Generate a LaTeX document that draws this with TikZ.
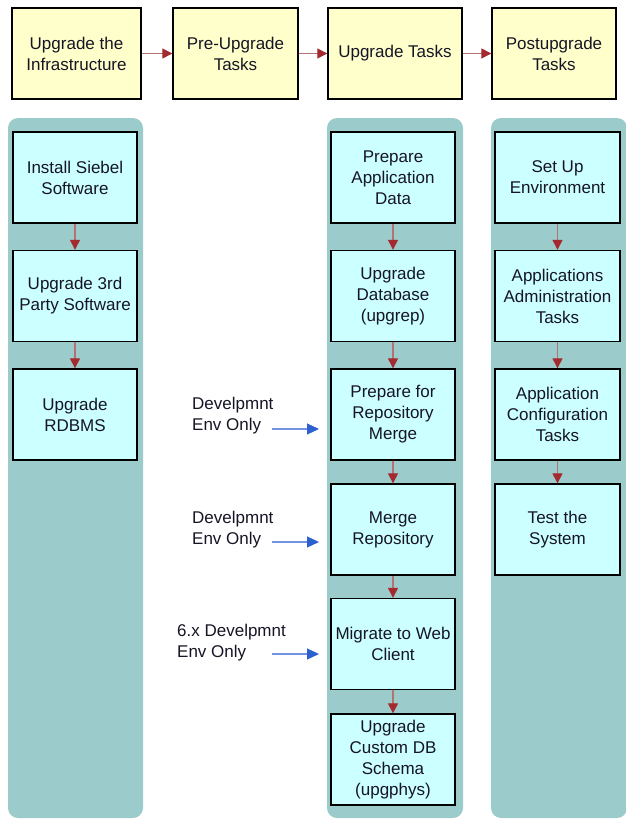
\documentclass[tikz,border=0pt]{standalone}
\usepackage{fontspec}
\setmainfont{Liberation Sans}
\usetikzlibrary{arrows.meta}
\definecolor{phasefill}{HTML}{FFFFCC}
\definecolor{lanefill}{HTML}{9BCBCB}
\definecolor{taskfill}{HTML}{CCFFFF}
\definecolor{flowshaft}{HTML}{B47272}
\definecolor{flowred}{HTML}{A32A2E}
\definecolor{noteshaft}{HTML}{7393E2}
\definecolor{noteblue}{HTML}{2F60D0}
\definecolor{inktext}{HTML}{151525}
\tikzset{
  every node/.style={font=\fontsize{17}{21}\selectfont, text=inktext},
  phase/.style={draw=black, line width=1.4pt, fill=phasefill, inner sep=0pt,
    minimum height=91pt, align=center},
  task/.style={draw=black, line width=1.4pt, fill=taskfill, inner sep=0pt,
    minimum width=124pt, minimum height=91pt, align=center},
  lane/.style={fill=lanefill, rounded corners=10pt},
  flow/.style={draw=flowshaft, line width=1.3pt,
    -{Triangle[length=10pt,width=10pt,color=flowred]}},
  note/.style={align=left, anchor=west, inner sep=0pt},
  notearrow/.style={draw=noteshaft, line width=1.1pt,
    -{Triangle[length=12pt,width=11pt,color=noteblue]}}
}
\begin{document}
\begin{tikzpicture}[x=1pt,y=-1pt]
\useasboundingbox (0,0) rectangle (626,819);

% swim lanes
\fill[lane] (8,118) rectangle (143,818);
\fill[lane] (327,118) rectangle (463,818);
\fill[lane] (491,118) rectangle (627,818);

% phase row
\node[phase, minimum width=129pt] (p1) at (76.5,53.5) {Upgrade the\\Infrastructure};
\node[phase, minimum width=125pt] (p2) at (235.5,53.5) {Pre-Upgrade\\Tasks};
\node[phase, minimum width=134pt] (p3) at (395,53.5) {Upgrade Tasks};
\node[phase, minimum width=124pt] (p4) at (554,53.5) {Postupgrade\\Tasks};
\draw[flow] (p1) -- (p2);
\draw[flow] (p2) -- (p3);
\draw[flow] (p3) -- (p4);

% infrastructure lane
\node[task] (a1) at (75,177.5) {Install Siebel\\Software};
\node[task] (a2) at (75,296) {Upgrade 3rd\\Party Software};
\node[task] (a3) at (75,414.5) {Upgrade\\RDBMS};
\draw[flow] (a1) -- (a2);
\draw[flow] (a2) -- (a3);

% upgrade lane
\node[task] (b1) at (393,177.5) {Prepare\\Application\\Data};
\node[task] (b2) at (393,296) {Upgrade\\Database\\(upgrep)};
\node[task] (b3) at (393,414.5) {Prepare for\\Repository\\Merge};
\node[task] (b4) at (393,529.5) {Merge\\Repository};
\node[task] (b5) at (393,644) {Migrate to Web\\Client};
\node[task] (b6) at (393,759.5) {Upgrade\\Custom DB\\Schema\\(upgphys)};
\draw[flow] (b1) -- (b2);
\draw[flow] (b2) -- (b3);
\draw[flow] (b3) -- (b4);
\draw[flow] (b4) -- (b5);
\draw[flow] (b5) -- (b6);

% postupgrade lane
\node[task, minimum width=125pt] (c1) at (557.5,177.5) {Set Up\\Environment};
\node[task, minimum width=125pt] (c2) at (557.5,296) {Applications\\Administration\\Tasks};
\node[task, minimum width=125pt] (c3) at (557.5,414.5) {Application\\Configuration\\Tasks};
\node[task, minimum width=125pt] (c4) at (557.5,529.5) {Test the\\System};
\draw[flow] (c1) -- (c2);
\draw[flow] (c2) -- (c3);
\draw[flow] (c3) -- (c4);

% environment notes
\node[note] (n1) at (192,416) {Develpmnt\\Env Only};
\node[note] (n2) at (192,530) {Develpmnt\\Env Only};
\node[note] (n3) at (177,643) {6.x Develpmnt\\Env Only};
\coordinate (s1) at (272,429);
\coordinate (e1) at (319,429);
\coordinate (s2) at (272,542);
\coordinate (e2) at (319,542);
\coordinate (s3) at (272,654);
\coordinate (e3) at (319,654);
\draw[notearrow] (s1) -- (e1);
\draw[notearrow] (s2) -- (e2);
\draw[notearrow] (s3) -- (e3);
\end{tikzpicture}
\end{document}
